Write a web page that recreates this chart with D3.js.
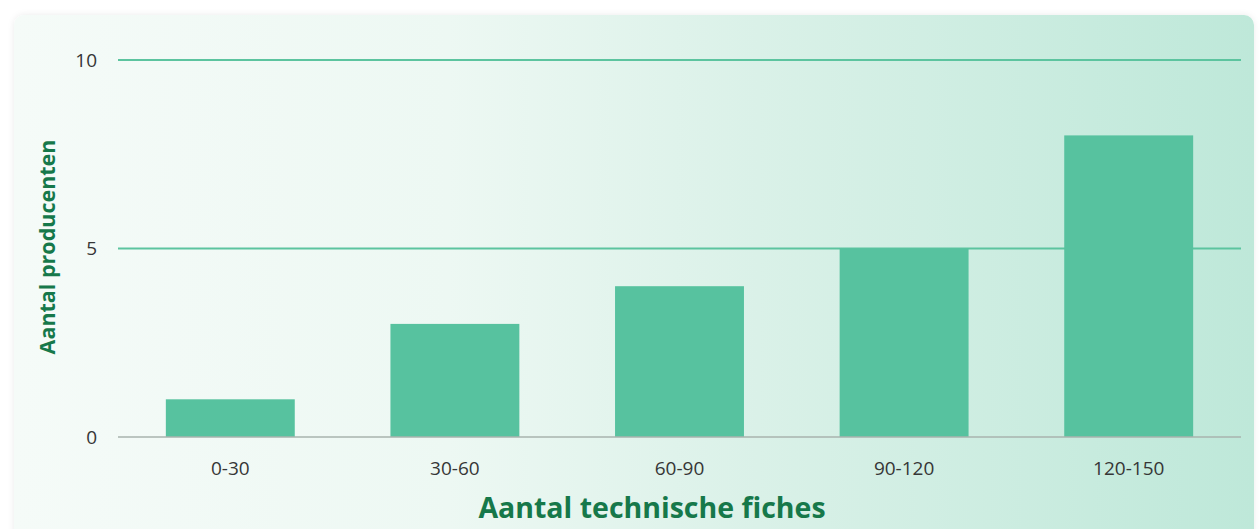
<!DOCTYPE html>
<html>
<head>
<meta charset="utf-8">
<script src="https://cdn.jsdelivr.net/npm/d3@7"></script>
<style>
  html, body { margin: 0; padding: 0; background: #ffffff; }
  svg { display: block; font-family: "Open Sans", "Noto Sans", sans-serif; }
</style>
</head>
<body>
<svg id="chart" width="1260" height="529"></svg>
<script>
// Number of producers per bucket of technical sheets
const categories = ["0-30", "30-60", "60-90", "90-120", "120-150"];
const producers = [1, 3, 4, 5, 8];
const yTicks = [0, 5, 10];
const xTitle = "Aantal technische fiches";
const yTitle = "Aantal producenten";

const svg = d3.select("#chart");
const W = 1260, H = 529;
const margin = { left: 118, right: 19, top: 60, bottom: 92 };

// Card background with a soft left-to-right mint gradient
const defs = svg.append("defs");
const grad = defs.append("linearGradient").attr("id", "bg").attr("x1", "0").attr("x2", "1").attr("y1", "0").attr("y2", "0");
grad.append("stop").attr("offset", "0").attr("stop-color", "#f5fbf8");
grad.append("stop").attr("offset", "0.35").attr("stop-color", "#edf8f3");
grad.append("stop").attr("offset", "0.6").attr("stop-color", "#daf1e8");
grad.append("stop").attr("offset", "1").attr("stop-color", "#bee8d9");
const shadow = defs.append("filter").attr("id", "shadow").attr("x", "-5%").attr("y", "-5%").attr("width", "110%").attr("height", "110%");
shadow.append("feDropShadow").attr("dx", 0).attr("dy", 0).attr("stdDeviation", 3).attr("flood-color", "#000").attr("flood-opacity", 0.08);

svg.append("rect")
  .attr("x", 14).attr("y", 15)
  .attr("width", 1240).attr("height", 540)
  .attr("rx", 10)
  .attr("fill", "url(#bg)")
  .attr("filter", "url(#shadow)");

const x = d3.scaleBand()
  .domain(categories)
  .range([margin.left, W - margin.right])
  .paddingInner(0.426)
  .paddingOuter(0.213);

const y = d3.scaleLinear()
  .domain([0, 10])
  .range([437, margin.top]);

// Horizontal gridlines (non-zero ticks)
svg.append("g")
  .selectAll("line")
  .data(yTicks.filter(t => t !== 0))
  .join("line")
  .attr("x1", margin.left).attr("x2", W - margin.right)
  .attr("y1", d => y(d)).attr("y2", d => y(d))
  .attr("stroke", "#5cc49f")
  .attr("stroke-width", 2);

// Bars
svg.append("g")
  .selectAll("rect")
  .data(categories.map((c, i) => ({ c, v: producers[i] })))
  .join("rect")
  .attr("x", d => x(d.c))
  .attr("width", x.bandwidth())
  .attr("y", d => y(d.v))
  .attr("height", d => y(0) - y(d.v))
  .attr("fill", "#57c29f");

// Baseline
svg.append("line")
  .attr("x1", margin.left).attr("x2", W - margin.right)
  .attr("y1", y(0)).attr("y2", y(0))
  .attr("stroke", "#a9b3ae")
  .attr("stroke-width", 1.5);

// Y axis tick labels
const yAxis = d3.axisLeft(y).tickValues(yTicks).tickSize(0).tickPadding(0).tickFormat(d3.format("d"));
const gy = svg.append("g").attr("transform", "translate(97,0)").call(yAxis);
gy.select(".domain").remove();
gy.selectAll("text")
  .attr("font-size", 19)
  .attr("font-family", "'Open Sans', sans-serif")
  .attr("fill", "#363636");

// X axis tick labels
const xAxis = d3.axisBottom(x).tickSize(0).tickPadding(0);
const gx = svg.append("g").attr("transform", "translate(0,461.5)").call(xAxis);
gx.select(".domain").remove();
gx.selectAll("text")
  .attr("font-size", 19)
  .attr("font-family", "'Open Sans', sans-serif")
  .attr("fill", "#363636");

// Axis titles
svg.append("text")
  .attr("x", 652).attr("y", 518)
  .attr("text-anchor", "middle")
  .attr("font-size", 28.5)
  .attr("font-weight", 700)
  .attr("fill", "#16784a")
  .text(xTitle);

svg.append("text")
  .attr("transform", "translate(55,247) rotate(-90)")
  .attr("text-anchor", "middle")
  .attr("font-size", 21.5)
  .attr("font-weight", 700)
  .attr("fill", "#16784a")
  .text(yTitle);
</script>
</body>
</html>
